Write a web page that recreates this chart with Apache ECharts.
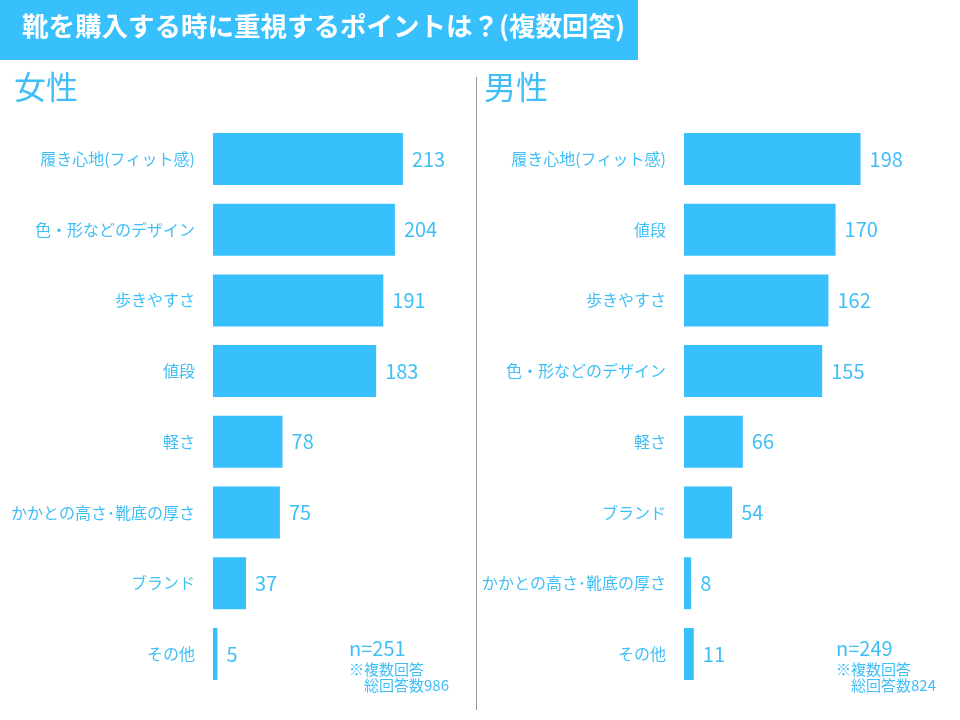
<!DOCTYPE html>
<html>
<head>
<meta charset="utf-8">
<script src="https://cdn.jsdelivr.net/npm/echarts@6/dist/echarts.min.js"></script>
<style>
html,body{margin:0;padding:0;background:#fff;}
#chart{width:960px;height:720px;}
</style>
</head>
<body>
<div id="chart"></div>
<script>
// ---- data ----
const titleText = '靴を購入する時に重視するポイントは？(複数回答)';
const femaleLabel = '女性';
const maleLabel = '男性';
const femaleCategories = ['履き心地(フィット感)', '色・形などのデザイン', '歩きやすさ', '値段', '軽さ', 'かかとの高さ･靴底の厚さ', 'ブランド', 'その他'];
const femaleValues = [213, 204, 191, 183, 78, 75, 37, 5];
const maleCategories = ['履き心地(フィット感)', '値段', '歩きやすさ', '色・形などのデザイン', '軽さ', 'ブランド', 'かかとの高さ･靴底の厚さ', 'その他'];
const maleValues = [198, 170, 162, 155, 66, 54, 8, 11];
const femaleNote = ['n=251', '※複数回答', '総回答数986'];
const maleNote = ['n=249', '※複数回答', '総回答数824'];

// ---- style ----
const BAR = '#38C0FC';
const TXT = '#40BFF6';
const FONT = '"Noto Sans CJK JP", "Noto Sans", sans-serif';
const AXMAX = 240;

const chart = echarts.init(document.getElementById('chart'), null, {renderer: 'canvas'});

function yAxis(idx, cats) {
  return {
    type: 'category', gridIndex: idx, data: cats, inverse: true,
    axisLine: {show: false}, axisTick: {show: false}, splitLine: {show: false},
    axisLabel: {color: TXT, fontSize: 16, fontFamily: FONT, margin: 18}
  };
}
function xAxis(idx) {
  return {type: 'value', gridIndex: idx, min: 0, max: AXMAX, show: false};
}
function series(idx, vals) {
  return {
    type: 'bar', xAxisIndex: idx, yAxisIndex: idx, data: vals, barWidth: 52,
    itemStyle: {color: BAR}, silent: true, animation: false,
    label: {show: true, position: 'right', distance: 9, color: TXT, fontSize: 20, fontFamily: FONT}
  };
}
function note(x, lines) {
  return [
    {type: 'text', left: x, top: 638, style: {text: lines[0], fill: TXT, font: '20px ' + FONT}},
    {type: 'text', left: x, top: 662, style: {text: lines[1], fill: TXT, font: '15px ' + FONT}},
    {type: 'text', left: x + 15, top: 678, style: {text: lines[2], fill: TXT, font: '15px ' + FONT}}
  ];
}

chart.setOption({
  animation: false,
  grid: [
    {left: 213, top: 123.6, width: 214, height: 565.7},
    {left: 684, top: 123.6, width: 214, height: 565.7}
  ],
  xAxis: [xAxis(0), xAxis(1)],
  yAxis: [yAxis(0, femaleCategories), yAxis(1, maleCategories)],
  series: [series(0, femaleValues), series(1, maleValues)],
  graphic: [
    {type: 'rect', left: 0, top: 0, shape: {width: 638, height: 60}, style: {fill: BAR}},
    {type: 'text', left: 22, top: 13, style: {text: titleText, fill: '#fff', font: 'bold 26.5px ' + FONT}},
    {type: 'text', left: 14, top: 71, style: {text: femaleLabel, fill: TXT, font: '32px ' + FONT}},
    {type: 'text', left: 484, top: 71, style: {text: maleLabel, fill: TXT, font: '32px ' + FONT}},
    {type: 'line', shape: {x1: 476.5, y1: 77, x2: 476.5, y2: 710}, style: {stroke: '#999', lineWidth: 1}}
  ].concat(note(349, femaleNote), note(836, maleNote))
});
</script>
</body>
</html>
